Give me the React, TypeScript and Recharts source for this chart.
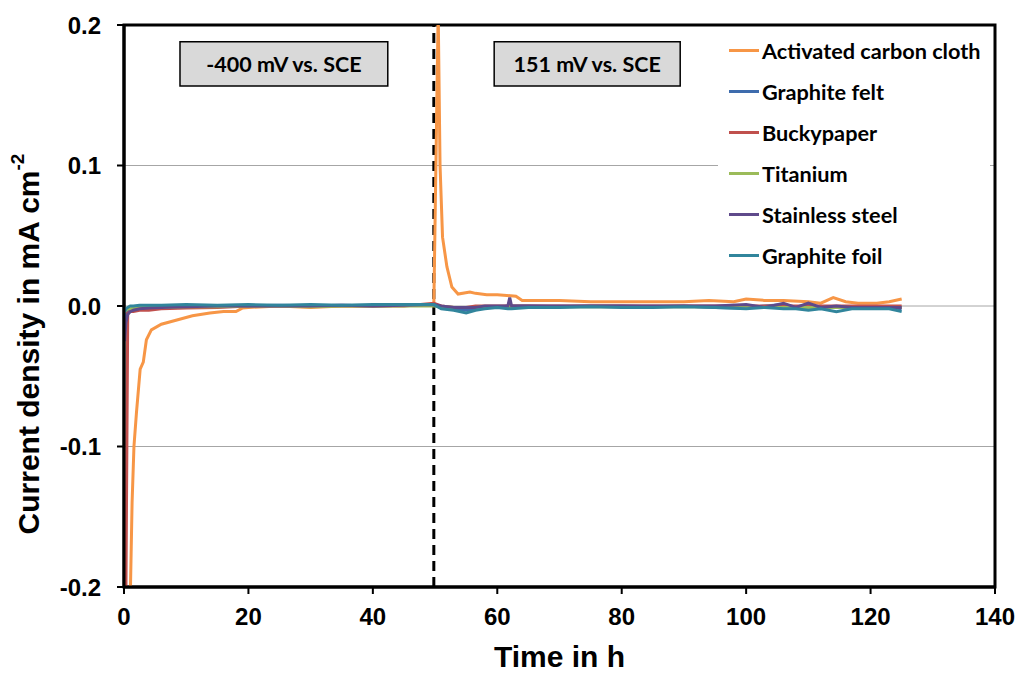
import React from "react";
import {
  LineChart,
  Line,
  XAxis,
  YAxis,
  CartesianGrid,
  ReferenceLine,
  ReferenceArea,
  Legend,
  Label,
} from "recharts";

const AXIS_FONT = "'Liberation Sans', Arial, sans-serif";
const TEXT_FONT = "Lato, 'Open Sans', sans-serif";

// Activated carbon cloth has its own time base (sharp transients)
const accTime = [
  1.0, 1.3, 1.6, 2.0, 2.6, 3.1, 3.6, 4.4, 6, 8.5, 11, 13.8, 16, 18, 19, 20, 25,
  30, 35, 40, 45, 49.8, 50.5, 50.8, 51.2, 51.9, 52.7, 53.7, 55.6, 56.5, 58.3,
  60, 63, 64, 70, 75, 80, 85, 90, 94, 98, 100, 103, 106, 110, 112, 114, 116,
  118, 121, 123, 125,
];
const accValue = [
  -0.21, -0.14, -0.1, -0.076, -0.045, -0.04, -0.024, -0.017, -0.013, -0.01,
  -0.007, -0.005, -0.004, -0.004, -0.0015, -0.001, 0, -0.001, 0, 0, 0.0005,
  0.0005, 0.21, 0.1, 0.049, 0.028, 0.0135, 0.0085, 0.01, 0.009, 0.008, 0.008,
  0.007, 0.004, 0.004, 0.003, 0.003, 0.003, 0.003, 0.004, 0.003, 0.005, 0.004,
  0.004, 0.003, 0.002, 0.006, 0.003, 0.002, 0.002, 0.003, 0.005,
];

// shared time base for the other electrodes
const baseTime = [
  0.1, 0.3, 0.6, 1, 1.5, 2.5, 4, 6, 10, 15, 20, 25, 30, 35, 40, 45, 49.8, 51,
  53, 55, 56.5, 58, 60, 61.7, 62, 62.3, 65, 70, 75, 80, 85, 90, 95, 100, 103,
  106, 108, 110, 112, 114.5, 117, 120, 123, 125,
];
const feltValue = [
  -0.01, -0.006, -0.004, -0.003, -0.002, -0.0015, -0.001, -0.001, -0.0005, 0,
  0, 0.0005, 0, 0.0005, 0, 0.0005, 0.0005, -0.001, -0.002, -0.003, -0.002,
  -0.001, -0.001, 0, 0, 0, 0, -0.0005, 0, 0, -0.0005, 0, -0.001, -0.0015, 0,
  0.001, -0.001, 0.001, -0.001, -0.0005, -0.001, -0.001, -0.001, -0.002,
];
const buckyValue = [
  -0.26, -0.21, -0.005, -0.004, -0.004, -0.003, -0.003, -0.002, -0.0015,
  -0.001, 0, 0, 0, 0, 0, 0, 0.002, 0, -0.001, -0.001, 0, 0, 0, 0, 0, 0, 0, 0,
  0, 0, 0, 0, 0, 0, 0, 0, 0, 0, 0, 0, 0, 0, 0, 0,
];
const titaniumValue = [
  -0.004, -0.003, -0.002, -0.002, -0.0015, -0.001, -0.001, -0.001, -0.0005,
  -0.0005, 0, 0, -0.0005, 0, 0, 0, 0, -0.0005, -0.001, -0.001, -0.001, -0.0005,
  -0.0005, -0.0005, -0.0005, -0.0005, -0.0005, -0.0005, -0.0005, -0.0005,
  -0.0005, -0.0005, -0.0005, -0.001, -0.001, -0.001, -0.001, -0.001, -0.001,
  -0.001, -0.001, -0.001, -0.001, -0.001,
];
const steelValue = [
  -0.025, -0.012, -0.006, -0.004, -0.003, -0.002, -0.0015, -0.001, -0.0005,
  0, 0, 0, 0, 0.0005, 0, 0.0005, 0.001, 0, -0.001, -0.001, -0.001, 0, 0, 0,
  0.006, 0, 0, 0, 0, 0, 0, 0, 0, 0.001, -0.001, 0.002, -0.001, 0.002, -0.001,
  0, -0.001, -0.001, -0.001, -0.001,
];
const foilValue = [
  -0.004, -0.002, -0.001, 0, 0, 0.0005, 0.0005, 0.0005, 0.001, 0.0005, 0.001,
  0.0005, 0.001, 0.0005, 0.001, 0.001, 0.001, -0.002, -0.003, -0.005, -0.003,
  -0.002, -0.001, -0.002, -0.002, -0.002, -0.001, -0.001, -0.0005, -0.001,
  -0.001, -0.0005, -0.001, -0.002, -0.001, -0.002, -0.002, -0.003, -0.002,
  -0.004, -0.002, -0.002, -0.002, -0.004,
];

const xTicks = [0, 20, 40, 60, 80, 100, 120, 140];
const yTicks = [-0.2, -0.1, 0, 0.1, 0.2];
const switchTime = 49.8;

const toPoints = (t: number[], v: number[]) =>
  t.map((x, i) => ({ t: x, v: v[i] }));

const SERIES = [
  { name: "Activated carbon cloth", color: "#F79646", data: toPoints(accTime, accValue) },
  { name: "Graphite felt", color: "#3E6CAD", data: toPoints(baseTime, feltValue) },
  { name: "Buckypaper", color: "#C0504D", data: toPoints(baseTime, buckyValue) },
  { name: "Titanium", color: "#9BBB59", data: toPoints(baseTime, titaniumValue) },
  { name: "Stainless steel", color: "#5F4A8B", data: toPoints(baseTime, steelValue) },
  { name: "Graphite foil", color: "#31859C", data: toPoints(baseTime, foilValue) },
];

function YTitle({ viewBox }: any) {
  const cx = 28;
  const cy = viewBox.y + viewBox.height / 2 + 38;
  return (
    <text
      x={cx}
      y={cy}
      transform={`rotate(-90, ${cx}, ${cy})`}
      textAnchor="middle"
      dominantBaseline="central"
      fontFamily={AXIS_FONT}
      fontWeight="bold"
      fontSize={30}
      fill="#000"
    >
      Current density in mA cm
      <tspan dy={-11} fontSize={19}>
        -2
      </tspan>
    </text>
  );
}

function renderLegend() {
  return (
    <div style={{ fontFamily: TEXT_FONT, fontWeight: 700, fontSize: 21.7 }}>
      {SERIES.map((s) => (
        <div
          key={s.name}
          style={{ display: "flex", alignItems: "center", height: 41 }}
        >
          <span
            style={{
              display: "inline-block",
              width: 30,
              height: 3,
              marginLeft: 11,
              marginRight: 3,
              background: s.color,
            }}
          />
          <span style={{ color: "#000" }}>{s.name}</span>
        </div>
      ))}
    </div>
  );
}

const boxLabel = (value: string) => ({
  value,
  position: "center" as const,
  fill: "#000",
  fontSize: 21.5,
  fontWeight: "bold",
  fontFamily: TEXT_FONT,
});

export default function App() {
  return (
    <div style={{ position: "absolute", left: 0, top: 0, background: "#fff" }}>
      <LineChart
        width={1022}
        height={673}
        margin={{ top: 25, right: 27, bottom: 0, left: 0 }}
      >
        <CartesianGrid vertical={false} stroke="#a6a6a6" strokeWidth={1} />
        <XAxis
          dataKey="t"
          type="number"
          domain={[0, 140]}
          ticks={xTicks}
          height={86}
          allowDataOverflow
          axisLine={{ stroke: "#000", strokeWidth: 3 }}
          tickLine={{ stroke: "#000", strokeWidth: 2 }}
          tickSize={7}
          tickMargin={14}
          tick={{ fill: "#000", fontSize: 24, fontWeight: "bold", fontFamily: AXIS_FONT }}
        >
          <Label
            value="Time in h"
            position="insideBottom"
            offset={6}
            fill="#000"
            fontSize={30}
            fontWeight="bold"
            fontFamily={AXIS_FONT}
          />
        </XAxis>
        <YAxis
          type="number"
          domain={[-0.2, 0.2]}
          ticks={yTicks}
          width={124}
          allowDataOverflow
          tickFormatter={(v: number) => v.toFixed(1)}
          axisLine={{ stroke: "#000", strokeWidth: 3 }}
          tickLine={{ stroke: "#000", strokeWidth: 2 }}
          tickSize={7}
          tickMargin={16}
          tick={{ fill: "#000", fontSize: 24, fontWeight: "bold", fontFamily: AXIS_FONT }}
        >
          <Label content={<YTitle />} />
        </YAxis>
        <ReferenceArea
          x1={9}
          x2={42.4}
          y1={0.1566}
          y2={0.188}
          fill="#d9d9d9"
          fillOpacity={1}
          stroke="#000"
          strokeWidth={1.5}
          label={boxLabel("-400 mV vs. SCE")}
        />
        <ReferenceArea
          x1={59.5}
          x2={89.4}
          y1={0.1566}
          y2={0.188}
          fill="#d9d9d9"
          fillOpacity={1}
          stroke="#000"
          strokeWidth={1.5}
          label={boxLabel("151 mV vs. SCE")}
        />
        <ReferenceLine
          x={switchTime}
          stroke="#000"
          strokeWidth={3}
          strokeDasharray="10 6"
        />
        {SERIES.map((s) => (
          <Line
            key={s.name}
            data={s.data}
            dataKey="v"
            name={s.name}
            type="linear"
            stroke={s.color}
            strokeWidth={3}
            dot={false}
            activeDot={false}
            isAnimationActive={false}
          />
        ))}
        <ReferenceArea
          x1={0}
          x2={140}
          y1={-0.2}
          y2={0.2}
          fill="none"
          stroke="#000"
          strokeWidth={3}
        />
        <Legend
          layout="vertical"
          align="center"
          verticalAlign="middle"
          content={renderLegend}
          wrapperStyle={{
            position: "absolute",
            left: 718,
            top: 30,
            width: 272,
            height: 246,
            background: "#fff",
          }}
        />
      </LineChart>
    </div>
  );
}
